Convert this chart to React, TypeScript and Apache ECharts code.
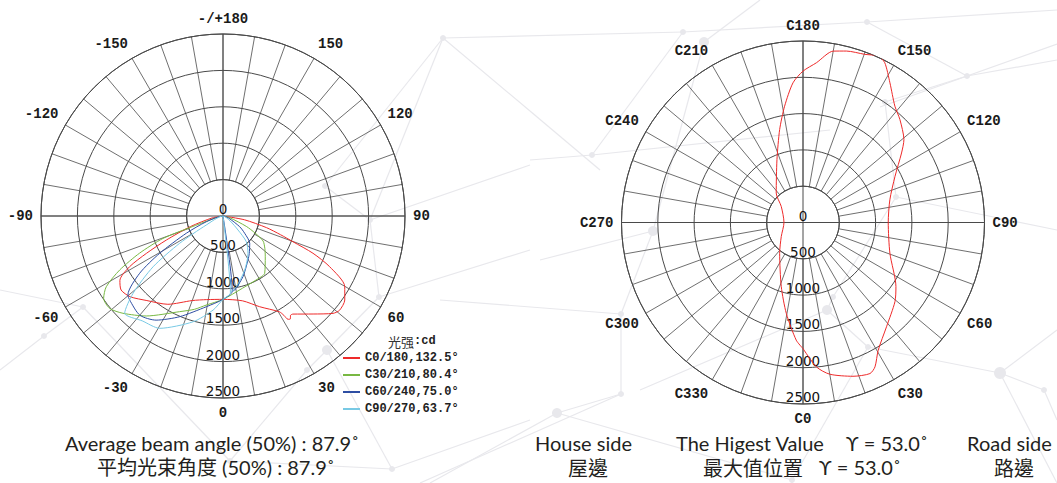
import React, { useEffect, useRef } from "react";
import * as echarts from "echarts";

// ---------- Left chart: intensity curves (gamma in degrees, intensity in cd) ----------
const RED_GAMMA = [-90, -80, -72, -67, -64, -61.5, -58, -54, -49, -42, -32, -20, -11, 0, 13, 22, 30.5, 31.5, 32.2, 33.2, 34.2, 35.5, 42.6, 48.5, 51, 55.4, 59.9, 64.6, 67.5, 69.8, 72, 75, 80, 90];
const RED_I = [0, 150, 470, 845, 1170, 1460, 1670, 1730, 1690, 1563, 1430, 1236, 1170, 1145, 1196, 1344, 1528, 1600, 1677, 1690, 1650, 1655, 1829, 2018, 2059, 2032, 1933, 1620, 1338, 1025, 830, 620, 300, 0];

const GREEN_GAMMA = [-90, -80, -71, -69.5, -66, -62.4, -58.8, -55.4, -50.8, -45.8, -37.5, -24.4, -17, -10.6, 0, 15, 32.3, 36, 46, 52, 58, 62, 66, 75, 90];
const GREEN_I = [0, 60, 400, 880, 1254, 1602, 1874, 1992, 2008, 1917, 1731, 1443, 1340, 1244, 1145, 1028, 986, 974, 807, 730, 650, 500, 350, 100, 0];

const BLUE_GAMMA = [7, 7, 0, -10.4, -23.3, -32.7, -40, -48, -50.3, -55.5, -59.5, -64.8, -71, -90, 90, 70, 57.3, 51.4, 44.4, 34.9, 29.6, 18.2, 9, 7];
const BLUE_I = [0, 1040, 1145, 1267, 1506, 1700, 1778, 1725, 1698, 1389, 1010, 557, 242, 0, 0, 80, 272, 381, 525, 630, 695, 878, 1029, 1040];

const CYAN_GAMMA = [5.5, 5.5, 0, -6, -15.8, -29.4, -37.6, -45.3, -49.3, -54, -57.8, -61.7, -90, 90, 55, 47, 42.2, 33.8, 21.9, 10.7, 5.5];
const CYAN_I = [0, 1060, 1145, 1299, 1510, 1771, 1818, 1900, 1630, 1187, 704, 261, 0, 0, 120, 282, 477, 617, 800, 988, 1060];

const LEFT_SERIES_NAMES = ["C0/180,132.5°", "C30/210,80.4°", "C60/240,75.0°", "C90/270,63.7°"];

// ---------- Right chart: intensity at the peak gamma across C-planes ----------
const C_ANGLES = [0, 5.3, 10, 18, 23.9, 26.5, 30.5, 38.7, 49.3, 55.4, 70.5, 90, 104.7, 116.6, 125.2, 129.4, 136.7, 141.7, 148.1, 152.9, 155.7, 159.8, 165.8, 170, 175.2, 180, 184.1, 189, 194.1, 202.5, 222.3, 233.6, 270, 302.8, 322.8, 341.3, 349.6, 356.7, 360];
const C_VALUES = [1736, 1997, 2122, 2227, 2276, 2222, 2041, 1840, 1671, 1555, 1270, 1174, 1237, 1417, 1661, 1799, 1947, 2042, 2266, 2472, 2516, 2468, 2436, 2397, 2208, 2085, 1929, 1621, 1320, 937, 548, 372, 262, 356, 532, 933, 1273, 1623, 1736];

// ---------- Axis ticks ----------
const RADIAL_MAX = 2500;
const RADIAL_STEP = 500;
const SPOKE_STEP = 10;
const LABEL_STEP = 30;

const toAngle = (g: number) => (g < 0 ? g + 360 : g);
const pairs = (gs: number[], vs: number[]) => gs.map((g, i) => [vs[i], toAngle(g)]);

const GRID = "#4a4a4a";
const MONO = "'Liberation Mono', 'DejaVu Sans Mono', monospace";
const SANS_LBL = "'DejaVu Sans', sans-serif";
const TXT_FONT = "Lato, 'Noto Sans', 'Noto Sans CJK TC', sans-serif";
const CJK_FONT = "'Noto Sans CJK TC', 'Noto Sans CJK SC', sans-serif";

const leftLabel = (v: number) => {
  if (v % LABEL_STEP !== 0 || v >= 360) return "";
  if (v === 180) return "-/+180";
  return v > 180 ? String(v - 360) : String(v);
};
const rightLabel = (v: number) => (v % LABEL_STEP !== 0 || v >= 360 ? "" : "C" + v);

function buildPolar(center: number[], radius: number, fmt: (v: number) => string, base: number) {
  const inner = (radius * RADIAL_STEP) / RADIAL_MAX;
  const polar = [
    { center, radius: [inner, radius] },
    { center, radius: [0, radius] },
  ];
  const angleAxis = [
    {
      polarIndex: base,
      type: "value",
      min: 0,
      max: 360,
      interval: SPOKE_STEP,
      startAngle: 270,
      clockwise: false,
      axisLine: { show: true, lineStyle: { color: GRID, width: 1 } },
      axisTick: { show: false },
      splitLine: { show: true, lineStyle: { color: GRID, width: 0.8 } },
      axisLabel: {
        show: true,
        formatter: fmt,
        margin: 8,
        fontFamily: MONO,
        fontWeight: "bold",
        fontSize: 14,
        color: "#1a1a1a",
      },
    },
    {
      polarIndex: base + 1,
      type: "value",
      min: 0,
      max: 360,
      interval: 90,
      startAngle: 270,
      clockwise: false,
      axisLine: { show: false },
      axisTick: { show: false },
      axisLabel: { show: false },
      splitLine: { show: true, lineStyle: { color: GRID, width: 1 } },
    },
  ];
  const radiusAxis = [
    { polarIndex: base, type: "value", min: 0, max: RADIAL_MAX, show: false },
    {
      polarIndex: base + 1,
      type: "value",
      min: 0,
      max: RADIAL_MAX,
      interval: RADIAL_STEP,
      axisLine: { show: false },
      axisTick: { show: false },
      splitLine: { show: true, lineStyle: { color: GRID, width: 1 } },
      axisLabel: {
        show: true,
        margin: 0,
        align: "center",
        verticalAlign: "bottom",
        formatter: (v: number) => String(v),
        fontFamily: SANS_LBL,
        fontSize: 13.5,
        color: "#111",
      },
    },
  ];
  return { polar, angleAxis, radiusAxis };
}

// faint decorative network in the background
const BG_NODES: [number, number, number][] = [
  [443, 38, 3], [683, 32, 3], [704, 42, 5], [867, 22, 3], [967, 76, 3], [592, 155, 3], [653, 231, 5],
  [621, 314, 3], [621, 394, 3], [557, 413, 5], [1000, 373, 6], [1044, 390, 3], [827, 310, 5], [833, 297, 3],
  [896, 197, 3], [868, 347, 3], [885, 102, 3], [325, 186, 3], [370, 220, 3], [379, 297, 3], [327, 350, 5],
  [307, 370, 3], [83, 307, 3], [44, 336, 3], [230, 461, 3], [392, 469, 3], [792, 480, 3],
];
const BG_LINES: number[][] = [
  [443, 38, 683, 32], [683, 32, 867, 22], [867, 22, 1057, 10], [443, 38, 530, 111], [530, 111, 600, 170],
  [443, 38, 370, 220], [443, 38, 325, 186], [683, 32, 592, 155], [704, 42, 760, 0], [704, 42, 653, 231],
  [592, 155, 530, 160], [592, 155, 830, 130], [653, 231, 621, 314], [621, 314, 621, 394], [621, 394, 557, 413],
  [557, 413, 430, 483], [621, 314, 440, 300], [867, 22, 967, 76], [967, 76, 1057, 60], [967, 76, 885, 102],
  [885, 102, 896, 197], [896, 197, 833, 297], [833, 297, 827, 310], [827, 310, 868, 347], [868, 347, 1000, 373],
  [1000, 373, 1044, 390], [1044, 390, 1057, 420], [1000, 373, 1057, 330], [827, 310, 640, 390], [880, 107, 1057, 44],
  [792, 480, 868, 347], [792, 480, 557, 413], [325, 186, 370, 220], [370, 220, 379, 297], [379, 297, 327, 350],
  [327, 350, 307, 370], [307, 370, 230, 461], [327, 350, 392, 469], [379, 297, 530, 250], [370, 220, 530, 165],
  [83, 307, 44, 336], [83, 307, 0, 290], [44, 336, 0, 370], [83, 307, 230, 461], [230, 461, 392, 469],
  [392, 469, 530, 420], [896, 197, 1057, 230], [1000, 373, 1057, 483], [653, 231, 540, 260], [621, 394, 420, 483],
];

export default function App() {
  const ref = useRef<HTMLDivElement>(null);

  useEffect(() => {
    if (!ref.current) return;
    const chart = echarts.init(ref.current, undefined, { renderer: "svg" });

    const L = buildPolar([223, 216], 182, leftLabel, 0);
    const R = buildPolar([803, 222.5], 181.5, rightLabel, 2);

    const lineSeries = (name: string, data: number[][], color: string, polarIndex: number) => ({
      name,
      type: "line",
      coordinateSystem: "polar",
      polarIndex,
      data,
      showSymbol: false,
      symbol: "none",
      smooth: 0.25,
      color,
      lineStyle: { color, width: 1 },
      z: 5,
    });

    const bg: any[] = [];
    BG_LINES.forEach((l) =>
      bg.push({
        type: "line",
        silent: true,
        z: -10,
        shape: { x1: l[0], y1: l[1], x2: l[2], y2: l[3] },
        style: { stroke: "#e8e8ec", lineWidth: 1.2 },
      })
    );
    BG_NODES.forEach((n) =>
      bg.push({
        type: "circle",
        silent: true,
        z: -10,
        shape: { cx: n[0], cy: n[1], r: n[2] },
        style: { fill: "#e8e8ec" },
      })
    );

    const text = (t: string, x: number, y: number, size: number, family: string, align = "left") => ({
      type: "text",
      silent: true,
      x,
      y,
      style: {
        text: t,
        fontSize: size,
        fontFamily: family,
        fill: "#231f20",
        align,
        verticalAlign: "middle",
      },
    });

    chart.setOption({
      animation: false,
      backgroundColor: "#ffffff",
      polar: [...L.polar, ...R.polar],
      angleAxis: [...L.angleAxis, ...R.angleAxis],
      radiusAxis: [...L.radiusAxis, ...R.radiusAxis],
      legend: {
        data: LEFT_SERIES_NAMES,
        orient: "vertical",
        left: 343,
        top: 352,
        padding: 0,
        itemGap: 5,
        itemWidth: 17,
        itemHeight: 2,
        icon: "rect",
        selectedMode: false,
        textStyle: { fontFamily: MONO, fontSize: 12, fontWeight: "bold", color: "#222", lineHeight: 12 },
      },
      series: [
        lineSeries(LEFT_SERIES_NAMES[0], pairs(RED_GAMMA, RED_I), "#ee2a2a", 1),
        lineSeries(LEFT_SERIES_NAMES[1], pairs(GREEN_GAMMA, GREEN_I), "#78b843", 1),
        lineSeries(LEFT_SERIES_NAMES[2], pairs(BLUE_GAMMA, BLUE_I), "#2e4ea3", 1),
        lineSeries(LEFT_SERIES_NAMES[3], pairs(CYAN_GAMMA, CYAN_I), "#78c9e4", 1),
        lineSeries("peak", C_ANGLES.map((a, i) => [C_VALUES[i], a]), "#ee2a2a", 3),
      ],
      graphic: [
        ...bg,
        {
          type: "text",
          silent: true,
          x: 388,
          y: 341,
          style: {
            text: "{a|光强}{b|:cd}",
            verticalAlign: "middle",
            rich: {
              a: { fontFamily: CJK_FONT, fontSize: 13, fill: "#333" },
              b: { fontFamily: MONO, fontSize: 12, fontWeight: "bold", fill: "#222" },
            },
          },
        },
        text("Average beam angle (50%) : 87.9˚", 65, 443, 20, TXT_FONT),
        text("平均光束角度 (50%) : 87.9˚", 97, 467, 20, TXT_FONT),
        text("House side", 535, 443, 20, TXT_FONT),
        text("屋邊", 588, 467, 20, CJK_FONT, "center"),
        text("The Higest Value", 676, 443, 20, TXT_FONT),
        text("ϒ = 53.0˚", 846, 443, 20, TXT_FONT),
        text("最大值位置", 703, 467, 20, CJK_FONT),
        text("ϒ = 53.0˚", 819, 467, 20, TXT_FONT),
        text("Road side", 967, 443, 20, TXT_FONT),
        text("路邊", 1014, 467, 20, CJK_FONT, "center"),
      ],
    });

    return () => chart.dispose();
  }, []);

  return (
    <div
      ref={ref}
      style={{ position: "absolute", left: 0, top: 0, width: 1057, height: 483, background: "#fff" }}
    />
  );
}
